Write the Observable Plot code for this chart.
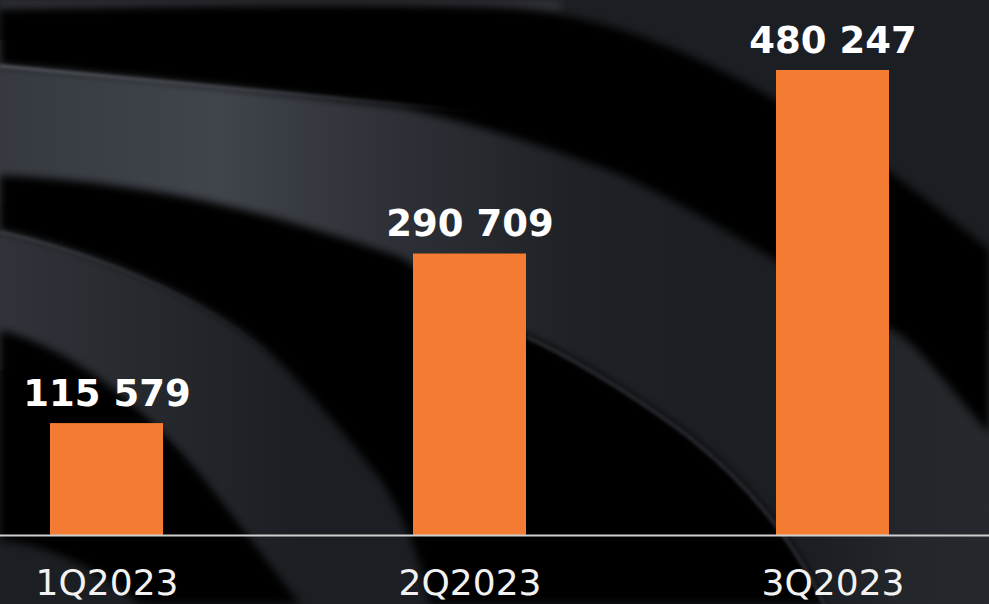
<!DOCTYPE html>
<html>
<head>
<meta charset="utf-8">
<script src="https://cdn.jsdelivr.net/npm/d3@7"></script>
<script src="https://cdn.jsdelivr.net/npm/@observablehq/plot@0.6"></script>
<style>
  html, body { margin: 0; padding: 0; }
  body { width: 989px; height: 604px; overflow: hidden; background-color: #1a1d21; background-repeat: no-repeat; }
  #chart svg { display: block; }
</style>
</head>
<body>
<div id="chart"></div>
<script>
const quarters = ["1Q2023", "2Q2023", "3Q2023"];
const values = [115579, 290709, 480247];
const valueLabels = ["115 579", "290 709", "480 247"];

const data = quarters.map((q, i) => ({ q, v: values[i], label: valueLabels[i] }));

// decorative dark wavy background (not data)
const bg = `<svg xmlns="http://www.w3.org/2000/svg" width="989" height="604" viewBox="0 0 989 604">
<defs>
<filter id="b" x="-20%" y="-20%" width="140%" height="140%"><feGaussianBlur stdDeviation="4"/></filter>
<filter id="s" x="-20%" y="-20%" width="140%" height="140%"><feGaussianBlur stdDeviation="1.5"/></filter>
<linearGradient id="gB" x1="0" y1="0" x2="720" y2="0" gradientUnits="userSpaceOnUse">
<stop offset="0" stop-color="#363a40"/>
<stop offset="0.3" stop-color="#40444b"/>
<stop offset="0.55" stop-color="#2d3036"/>
<stop offset="0.8" stop-color="#1e2125"/>
<stop offset="1" stop-color="#1b1e22"/>
</linearGradient>
<linearGradient id="gL" x1="0" y1="0" x2="300" y2="0" gradientUnits="userSpaceOnUse">
<stop offset="0" stop-color="#303339"/>
<stop offset="1" stop-color="#1b1e22"/>
</linearGradient>
<linearGradient id="gR" x1="820" y1="0" x2="989" y2="0" gradientUnits="userSpaceOnUse">
<stop offset="0" stop-color="#23262a" stop-opacity="0"/>
<stop offset="0.5" stop-color="#23262a" stop-opacity="1"/>
<stop offset="1" stop-color="#25282c" stop-opacity="1"/>
</linearGradient>
<linearGradient id="hl" x1="0" y1="0" x2="480" y2="0" gradientUnits="userSpaceOnUse">
<stop offset="0" stop-color="#5a5e64" stop-opacity="0.9"/>
<stop offset="0.6" stop-color="#5a5e64" stop-opacity="0.5"/>
<stop offset="1" stop-color="#5a5e64" stop-opacity="0"/>
</linearGradient>
<linearGradient id="hc" x1="0" y1="0" x2="280" y2="0" gradientUnits="userSpaceOnUse">
<stop offset="0" stop-color="#3a3d42" stop-opacity="1"/>
<stop offset="1" stop-color="#3a3d42" stop-opacity="0"/>
</linearGradient>
</defs>
<rect width="989" height="604" fill="#1b1e22"/>
<path d="M0,40 L780,40 L989,300 L989,470 L760,560 C700,500 620,420 560,420 C500,410 440,380 410,330 C360,270 200,215 0,205 Z" fill="url(#gB)"/>
<path d="M0,205 C100,215 250,270 330,340 L330,604 L300,604 L220,500 C160,420 80,350 0,370 Z" fill="url(#gL)"/>
<rect x="820" y="330" width="169" height="274" fill="url(#gR)"/>
<rect x="0" y="0" width="560" height="11" fill="#303337" filter="url(#b)"/>
<path d="M0,10 C170,7 350,2 505,8 C600,15 680,45 776,100 C830,130 900,175 989,250 L989,433 C950,390 920,345 889,327 C850,300 810,280 776,260 C720,227 650,185 600,167 C540,145 480,125 400,107 C300,95 150,78 0,65 Z" fill="#000" filter="url(#b)"/>
<path d="M0,175 C100,180 200,195 300,225 C350,240 380,250 400,257 C430,275 460,300 527,335 C560,350 620,383 687,433 C740,475 790,530 825,604 L430,604 C420,560 412,533 383,483 C350,440 300,380 267,350 C220,310 130,260 0,230 Z" fill="#000" filter="url(#b)"/>
<path d="M0,330 C80,350 160,420 220,500 L300,604 L140,604 C100,570 50,545 0,540 Z" fill="#000" filter="url(#b)"/>
<path d="M0,66 C150,79 300,96 480,112" fill="none" stroke="url(#hl)" stroke-width="3" filter="url(#s)"/>
<path d="M0,232 C130,262 220,312 267,352" fill="none" stroke="url(#hc)" stroke-width="3" filter="url(#s)"/>
<path d="M527,337 C560,352 620,385 687,435 C740,477 790,532 825,606" fill="none" stroke="#25282d" stroke-width="4" filter="url(#s)"/>
</svg>`;
document.body.style.backgroundImage = `url("data:image/svg+xml,${encodeURIComponent(bg)}")`;

const chart = Plot.plot({
  width: 989,
  height: 604,
  marginLeft: 0,
  marginRight: 0,
  marginTop: 0,
  marginBottom: 69,
  style: { background: "transparent", color: "#f2f2f2", fontFamily: "'DejaVu Sans', Verdana, sans-serif" },
  x: { domain: quarters, range: [12.65, 925.35], paddingInner: 0.689, paddingOuter: 0.1, label: null },
  y: { domain: [0, 552543], axis: null },
  marks: [
    Plot.barY(data, { x: "q", y: "v", fill: "#F47C32" }),
    Plot.ruleY([0], { stroke: "#cfcfcf", strokeWidth: 2 }),
    Plot.text(data, { x: "q", y: "v", text: "label", dy: -18, lineAnchor: "bottom", fontSize: 37, fontWeight: "bold", fill: "#ffffff" }),
    Plot.axisX({ tickSize: 0, tickPadding: 34, fontSize: 36, fill: "#f2f2f2", label: null })
  ]
});
document.getElementById("chart").appendChild(chart);
</script>
</body>
</html>
